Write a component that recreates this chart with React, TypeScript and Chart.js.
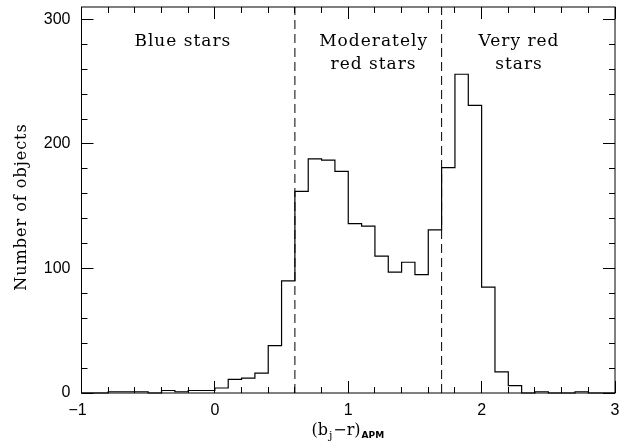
import React, { useEffect, useRef } from "react";
import { Chart, registerables } from "chart.js";

Chart.register(...registerables);

// Histogram bin edges (b_j - r)_APM and counts per bin
const binEdges = [
  -1.0, -0.9, -0.8, -0.7, -0.6, -0.5, -0.4, -0.3, -0.2, -0.1,
  0.0, 0.1, 0.2, 0.3, 0.4, 0.5, 0.6, 0.7, 0.8, 0.9,
  1.0, 1.1, 1.2, 1.3, 1.4, 1.5, 1.6, 1.7, 1.8, 1.9,
  2.0, 2.1, 2.2, 2.3, 2.4, 2.5, 2.6, 2.7, 2.8, 2.9, 3.0,
];
const counts = [
  0, 0, 1, 1, 1, 0, 2, 1, 2, 2,
  4, 11, 12, 16, 38, 90, 162, 188, 187, 178,
  136, 134, 110, 97, 105, 95, 131, 181, 256, 231,
  85, 17, 6, 0, 1, 0, 0, 1, 0, 0,
];

// Region boundaries (dashed lines)
const boundaries = [0.6, 1.7];

// Axes
const xRange = [-1, 3];
const yRange = [0, 310];
const xMajorTicks = [-1, 0, 1, 2, 3];
const xTickLabels = ["\u22121", "0", "1", "2", "3"];
const xMinorTicks = [-0.8, -0.6, -0.4, -0.2, 0.2, 0.4, 0.6, 0.8, 1.2, 1.4, 1.6, 1.8, 2.2, 2.4, 2.6, 2.8];
const yMajorTicks = [0, 100, 200, 300];
const yTickLabels = ["0", "100", "200", "300"];
const yMinorTicks = [20, 40, 60, 80, 120, 140, 160, 180, 220, 240, 260, 280];

// Region annotations: [text lines], x center (data), y baselines (data)
const regionLabels = [
  { lines: ["Blue stars"], x: -0.24 },
  { lines: ["Moderately", "red stars"], x: 1.19 },
  { lines: ["Very red", "stars"], x: 2.28 },
];
const labelLineY = [279, 260];

const yTitle = "Number of objects";

export default function App() {
  const ref = useRef<HTMLCanvasElement | null>(null);

  useEffect(() => {
    document.body.style.margin = "0";
    const canvas = ref.current;
    if (!canvas) return;

    const histPoints = counts.map((c, i) => ({ x: binEdges[i], y: c }));
    histPoints.push({ x: binEdges[binEdges.length - 1], y: counts[counts.length - 1] });

    const dashSets = boundaries.map((b) => ({
      data: [
        { x: b, y: yRange[0] },
        { x: b, y: yRange[1] },
      ],
      borderColor: "#000",
      borderWidth: 1,
      borderDash: [9, 5],
      pointRadius: 0,
      fill: false,
      clip: false as any,
    }));

    const decor = {
      id: "decor",
      afterDraw(chart: any) {
        const ctx = chart.ctx as CanvasRenderingContext2D;
        const ca = chart.chartArea;
        const xs = chart.scales.x;
        const ys = chart.scales.y;
        ctx.save();
        ctx.strokeStyle = "#000";
        ctx.fillStyle = "#000";
        ctx.lineWidth = 1;
        // frame
        ctx.strokeRect(ca.left, ca.top, ca.right - ca.left, ca.bottom - ca.top);
        // ticks
        const tick = (x1: number, y1: number, x2: number, y2: number) => {
          ctx.beginPath();
          ctx.moveTo(x1, y1);
          ctx.lineTo(x2, y2);
          ctx.stroke();
        };
        const snap = (v: number) => Math.round(v - 0.5) + 0.5;
        const MAJ = 12, MIN = 6;
        xMajorTicks.forEach((v) => {
          const px = snap(xs.getPixelForValue(v));
          tick(px, ca.bottom, px, ca.bottom - MAJ);
          tick(px, ca.top, px, ca.top + MAJ);
        });
        xMinorTicks.forEach((v) => {
          const px = snap(xs.getPixelForValue(v));
          tick(px, ca.bottom, px, ca.bottom - MIN);
          tick(px, ca.top, px, ca.top + MIN);
        });
        yMajorTicks.forEach((v) => {
          const py = snap(ys.getPixelForValue(v));
          tick(ca.left, py, ca.left + MAJ, py);
          tick(ca.right, py, ca.right - MAJ, py);
        });
        yMinorTicks.forEach((v) => {
          const py = snap(ys.getPixelForValue(v));
          tick(ca.left, py, ca.left + MIN, py);
          tick(ca.right, py, ca.right - MIN, py);
        });

        // tick labels
        ctx.font = '16px "Liberation Sans"';
        ctx.textAlign = "center";
        ctx.textBaseline = "middle";
        xMajorTicks.forEach((v, i) => {
          let px = xs.getPixelForValue(v);
          if (xTickLabels[i].startsWith("\u2212")) px -= 4;
          ctx.fillText(xTickLabels[i], px, ca.bottom + 18);
        });
        ctx.textAlign = "right";
        yMajorTicks.forEach((v, i) => {
          ctx.fillText(yTickLabels[i], ca.left - 11, ys.getPixelForValue(v));
        });

        // region labels
        ctx.font = '17px "DejaVu Serif"';
        (ctx as any).letterSpacing = "1px";
        ctx.textAlign = "center";
        ctx.textBaseline = "alphabetic";
        regionLabels.forEach((r) => {
          r.lines.forEach((t, j) => {
            ctx.fillText(t, xs.getPixelForValue(r.x), ys.getPixelForValue(labelLineY[j]));
          });
        });

        // y title
        ctx.save();
        ctx.font = '16px "DejaVu Serif"';
        (ctx as any).letterSpacing = "1px";
        ctx.translate(22, (ca.top + ca.bottom) / 2 + 7);
        ctx.rotate(-Math.PI / 2);
        ctx.textAlign = "center";
        ctx.textBaseline = "middle";
        ctx.fillText(yTitle, 0, 0);
        ctx.restore();

        // x title: (b_j - r)_APM
        (ctx as any).letterSpacing = "0px";
        const parts = [
          { t: "(b", font: '16px "DejaVu Serif"', dy: 0 },
          { t: "j", font: '11px "DejaVu Serif"', dy: 4 },
          { t: "\u2212r)", font: '16px "DejaVu Serif"', dy: 0 },
          { t: "APM", font: 'bold 9px "DejaVu Sans"', dy: 3 },
        ];
        let total = 0;
        const widths = parts.map((p) => {
          ctx.font = p.font;
          const w = ctx.measureText(p.t).width + 1;
          total += w;
          return w;
        });
        let cx = xs.getPixelForValue(1) - total / 2;
        const baseY = ca.bottom + 42;
        ctx.textAlign = "left";
        ctx.textBaseline = "alphabetic";
        parts.forEach((p, i) => {
          ctx.font = p.font;
          ctx.fillText(p.t, cx, baseY + p.dy);
          cx += widths[i];
        });
        ctx.restore();
      },
    };

    const chart = new Chart(canvas, {
      type: "line",
      data: {
        datasets: [
          {
            data: histPoints,
            stepped: "before",
            borderColor: "#000",
            borderWidth: 1.2,
            pointRadius: 0,
            fill: false,
            clip: false as any,
          } as any,
          ...(dashSets as any[]),
        ],
      },
      options: {
        animation: false,
        responsive: false,
        devicePixelRatio: 1,
        layout: { padding: { left: 81.5, right: 10, top: 7, bottom: 55 } },
        plugins: { legend: { display: false }, tooltip: { enabled: false } },
        scales: {
          x: { type: "linear", min: xRange[0], max: xRange[1], display: false },
          y: { type: "linear", min: yRange[0], max: yRange[1], display: false },
        },
      },
      plugins: [decor],
    });
    return () => chart.destroy();
  }, []);

  return (
    <div style={{ width: 625, height: 448, background: "#fff" }}>
      <canvas ref={ref} width={625} height={448} />
    </div>
  );
}
